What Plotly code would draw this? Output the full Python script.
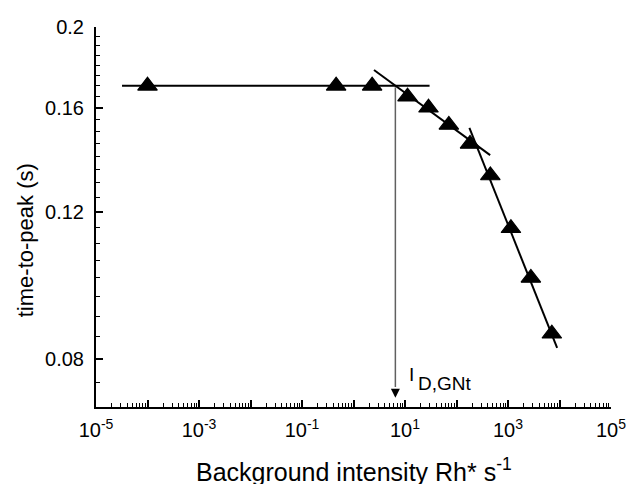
import math
import plotly.graph_objects as go

# ---- data ----
intensity = [1e-4, 0.46, 2.3, 11.2, 28.6, 71, 183, 454, 1140, 2780, 7100]
time_to_peak = [0.170, 0.170, 0.170, 0.165, 0.160, 0.1526, 0.1448, 0.1327, 0.1147, 0.100, 0.0857]

flat_x = [3.2e-5, 30]
flat_y = [0.170, 0.170]
mid_x = [2.5, 450]
mid_y = [0.1776, 0.1404]
steep_x = [178, 9000]
steep_y = [0.1514, 0.0824]

id_gnt_x = 6.5
arrow_y = [0.1693, 0.0740]

x_tick_exps = list(range(-5, 6))
x_label_exps = [-5, -3, -1, 1, 3, 5]
y_tick_vals = [0.08, 0.12, 0.16, 0.2]
y_tick_text = ["0.08", "0.12", "0.16", "0.2"]

FONT = "Arial, Liberation Sans, sans-serif"

fig = go.Figure()

line_style = dict(color="black", width=2)
fig.add_trace(go.Scatter(x=flat_x, y=flat_y, mode="lines", line=line_style, hoverinfo="skip"))
fig.add_trace(go.Scatter(x=mid_x, y=mid_y, mode="lines", line=line_style, hoverinfo="skip"))
fig.add_trace(go.Scatter(x=steep_x, y=steep_y, mode="lines", line=line_style, hoverinfo="skip"))
fig.add_trace(go.Scatter(x=[id_gnt_x, id_gnt_x], y=arrow_y, mode="lines",
                         line=dict(color="#606060", width=1.5), hoverinfo="skip"))
fig.add_trace(go.Scatter(x=intensity, y=time_to_peak, mode="markers",
                         marker=dict(symbol="triangle-up", size=17, color="black",
                                     line=dict(color="black", width=1.2))))

# arrow head
fig.add_annotation(x=math.log10(id_gnt_x), y=math.log10(0.0718), xref="x", yref="y",
                   ax=0, ay=-12, showarrow=True, arrowhead=2, arrowsize=1.2,
                   arrowwidth=1.5, arrowcolor="black", text=" ")
# label I_D,GNt
fig.add_annotation(x=1.045, y=0.0855, xref="x", yref="paper", text="I",
                   showarrow=False, xanchor="left", yanchor="middle",
                   font=dict(family=FONT, size=19, color="black"))
fig.add_annotation(x=1.21, y=0.0618, xref="x", yref="paper", text="D,GNt",
                   showarrow=False, xanchor="left", yanchor="middle",
                   font=dict(family=FONT, size=19, color="black"))

# axis titles
fig.add_annotation(x=-0.137, y=0.44, xref="paper", yref="paper",
                   text="time-to-peak (s)", textangle=-90, showarrow=False,
                   xanchor="center", yanchor="middle",
                   font=dict(family=FONT, size=22, color="black"))
fig.add_annotation(x=0.5, y=-0.166, xref="paper", yref="paper",
                   text="Background intensity Rh* s<sup>-1</sup>", showarrow=False,
                   xanchor="center", yanchor="middle",
                   font=dict(family=FONT, size=25, color="black"))

x_major = [10.0 ** e for e in x_tick_exps]
x_text = [("10<sup>%d</sup>" % e) if e in x_label_exps else "" for e in x_tick_exps]
x_minor = [k * 10.0 ** e for e in range(-5, 5) for k in range(2, 10)]

y_minor = [round(0.07 + 0.005 * i, 3) for i in range(0, 27)]
y_minor = [v for v in y_minor if all(abs(v - m) > 1e-9 for m in y_tick_vals)]

fig.update_layout(
    xaxis=dict(type="log", range=[-5, 5], showline=True, linecolor="black", linewidth=2,
               ticks="inside", ticklen=7, tickwidth=1.5, tickcolor="black",
               tickmode="array", tickvals=x_major, ticktext=x_text,
               minor=dict(ticks="inside", ticklen=4, tickwidth=1.2, tickcolor="black",
                          tickmode="array", tickvals=x_minor),
               showgrid=False, zeroline=False, mirror=False,
               tickfont=dict(family=FONT, size=20, color="black"), ticklabelstandoff=4),
    yaxis=dict(type="log", range=[math.log10(0.07), math.log10(0.2)], showline=True,
               linecolor="black", linewidth=2,
               ticks="inside", ticklen=7, tickwidth=1.5, tickcolor="black",
               tickmode="array", tickvals=y_tick_vals, ticktext=y_tick_text,
               minor=dict(ticks="inside", ticklen=4, tickwidth=1.2, tickcolor="black",
                          tickmode="array", tickvals=y_minor),
               showgrid=False, zeroline=False, mirror=False,
               tickfont=dict(family=FONT, size=20, color="black"), ticklabelstandoff=6),
    width=638, height=484, showlegend=False,
    margin=dict(l=96, r=17, t=27, b=77),
    plot_bgcolor="white", paper_bgcolor="white",
    font=dict(family=FONT, color="black"),
)

fig.write_html("out.html", config={"displayModeBar": False},
               post_script="document.body.style.margin='0';document.body.style.overflow='hidden';")
